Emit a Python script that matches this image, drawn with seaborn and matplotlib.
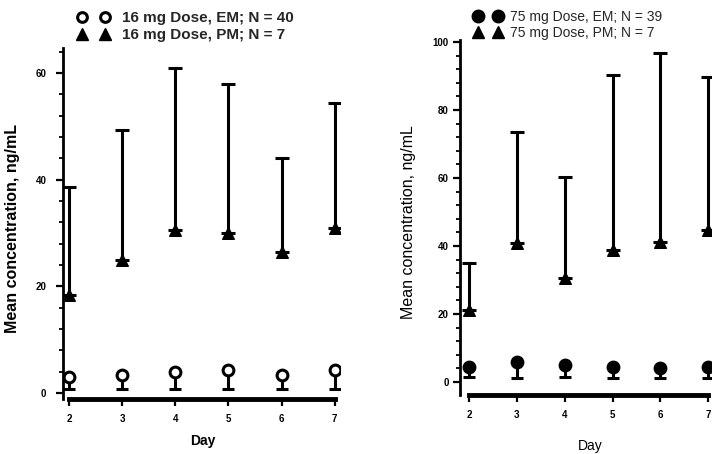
import matplotlib
matplotlib.use("Agg")
import matplotlib.pyplot as plt
import seaborn as sns
import numpy as np
import pandas as pd
from matplotlib.lines import Line2D
from matplotlib.ticker import MultipleLocator

# ---- data ----
days = [2, 3, 4, 5, 6, 7]
em16_mean = [3.0, 3.4, 3.9, 4.3, 3.4, 4.3]
em16_sd = [2.2, 2.6, 3.1, 3.5, 2.6, 3.5]
pm16_mean = [18.4, 25.0, 30.6, 30.0, 26.5, 31.0]
pm16_sd = [20.2, 24.3, 30.4, 28.0, 17.5, 23.4]
em75_mean = [4.4, 5.9, 5.0, 4.4, 4.1, 4.4]
em75_sd = [3.0, 4.7, 3.5, 3.2, 3.0, 3.2]
pm75_mean = [21.2, 40.9, 30.6, 38.8, 41.2, 44.7]
pm75_sd = [13.8, 32.6, 29.7, 51.5, 55.6, 45.0]

left_yticks = [0, 20, 40, 60]
right_yticks = [0, 20, 40, 60, 80, 100]
legend_left = ["16 mg Dose, EM; N = 40", "16 mg Dose, PM; N = 7"]
legend_right = ["75 mg Dose, EM; N = 39", "75 mg Dose, PM; N = 7"]
xlabel = "Day"
ylabel = "Mean concentration, ng/mL"

sns.set_theme(style="ticks")
plt.rcParams['font.family'] = ['Liberation Sans', 'DejaVu Sans']

W, H = 712, 454
fig = plt.figure(figsize=(W / 100, H / 100), dpi=100)
axL = fig.add_axes([63 / W, 1 - 399 / H, 277 / W, 351 / H])
axR = fig.add_axes([460 / W, 1 - 395 / H, 252 / W, 355 / H])


def panel(ax, em_mean, em_sd, pm_mean, pm_sd, em_face, weight):
    n = len(days)
    z = np.zeros(n)
    ax.errorbar(days, pm_mean, yerr=[z, pm_sd], fmt='none', ecolor='black',
                elinewidth=2.2, capsize=5, capthick=2.2, zorder=2)
    ax.errorbar(days, em_mean, yerr=[em_sd, z], fmt='none', ecolor='black',
                elinewidth=2.2, capsize=4, capthick=2.2, zorder=2)
    df = pd.DataFrame({"day": days, "em": em_mean, "pm": pm_mean})
    sns.scatterplot(data=df, x="day", y="pm", marker="^", s=70, color="black",
                    edgecolor="black", linewidth=1, ax=ax, legend=False, zorder=3)
    sns.scatterplot(data=df, x="day", y="em", marker="o", s=60, color=em_face,
                    edgecolor="black", linewidth=2.2, ax=ax, legend=False, zorder=3)
    for s in ("top", "right"):
        ax.spines[s].set_visible(False)
    ax.spines["bottom"].set_bounds(2, 7)
    ax.spines["bottom"].set_linewidth(3.5)
    ax.spines["left"].set_linewidth(2)
    ax.spines["bottom"].set_color("black")
    ax.spines["left"].set_color("black")
    ax.set_xticks(days)
    ax.set_xticklabels([str(d) for d in days])
    ax.yaxis.set_minor_locator(MultipleLocator(4))
    ax.tick_params(axis="both", which="major", direction="out", length=5,
                   width=1.6, color="black", labelsize=7, labelcolor="black")
    ax.tick_params(axis="y", which="minor", direction="out", length=3,
                   width=1.3, color="black")
    ax.tick_params(axis="x", pad=6)
    for lab in ax.get_xticklabels() + ax.get_yticklabels():
        lab.set_fontweight("bold")
    ax.set_xlabel(xlabel, fontsize=10, fontweight=weight, color="black")
    ax.set_ylabel(ylabel, fontsize=11.5, fontweight=weight, color="black")
    ax.set_facecolor("white")


panel(axL, em16_mean, em16_sd, pm16_mean, pm16_sd, "white", "bold")
axL.set_xlim(1.887, 7.1)
axL.set_ylim(-1.13, 64.7)
axL.set_yticks(left_yticks)
axL.tick_params(axis="y", pad=7)
axL.xaxis.set_label_coords(0.505, -0.10)
axL.yaxis.set_label_coords(-0.155, 0.487)

panel(axR, em75_mean, em75_sd, pm75_mean, pm75_sd, "black", "normal")
axR.set_xlim(1.81, 7.08)
axR.set_ylim(-3.82, 100.6)
axR.set_yticks(right_yticks)
axR.tick_params(axis="y", pad=3)
axR.xaxis.set_label_coords(0.516, -0.124)
axR.yaxis.set_label_coords(-0.175, 0.487)

# legends
hL = [Line2D([], [], ls="none", marker="o", ms=7, mfc="white", mec="black", mew=2.2),
      Line2D([], [], ls="none", marker="^", ms=8, mfc="black", mec="black")]
legL = fig.legend(hL, legend_left, loc="upper left", bbox_to_anchor=(77.4 / W, 1 - 11 / H),
                  numpoints=2, frameon=False, borderpad=0, borderaxespad=0,
                  handlelength=2.1, handletextpad=0.81, labelspacing=0.22,
                  prop={"size": 11, "weight": "bold"})
hR = [Line2D([], [], ls="none", marker="o", ms=9, mfc="black", mec="black"),
      Line2D([], [], ls="none", marker="^", ms=9, mfc="black", mec="black")]
legR = fig.legend(hR, legend_right, loc="upper left", bbox_to_anchor=(473.8 / W, 1 - 10 / H),
                  numpoints=2, frameon=False, borderpad=0, borderaxespad=0,
                  handlelength=2.04, handletextpad=0.57, labelspacing=0.15,
                  prop={"size": 10})

fig.savefig("out.png", dpi=100, facecolor="white")
